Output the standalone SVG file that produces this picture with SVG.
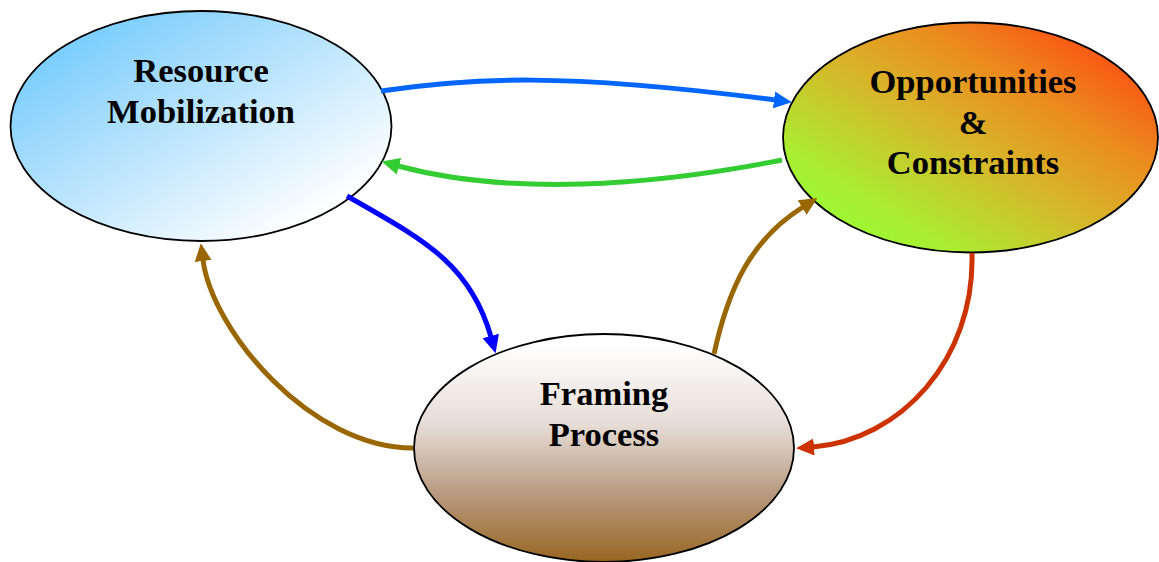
<svg xmlns="http://www.w3.org/2000/svg" width="1159" height="562" viewBox="0 0 1159 562">
  <style>
    .node { stroke: #000; stroke-width: 1.8; }
    .label { font-family: "Liberation Serif", "Times New Roman", serif; font-weight: bold; font-size: 34.5px; fill: #000; text-anchor: middle; }
    .conn { fill: none; stroke-width: 5; stroke-linecap: butt; }
  </style>
  <defs>
    <linearGradient id="gRes" x1="0" y1="0" x2="1" y2="1">
      <stop offset="0" stop-color="#5cc4ff"/>
      <stop offset="0.3" stop-color="#9ad8fc"/>
      <stop offset="0.85" stop-color="#ffffff"/>
    </linearGradient>
    <linearGradient id="gOpp" x1="0" y1="1" x2="1" y2="0">
      <stop offset="0.12" stop-color="#9cfa33"/>
      <stop offset="0.22" stop-color="#a8ef31"/>
      <stop offset="0.47" stop-color="#d6b82a"/>
      <stop offset="0.68" stop-color="#eb8c1e"/>
      <stop offset="0.85" stop-color="#f85a14"/>
      <stop offset="1" stop-color="#ff4a0c"/>
    </linearGradient>
    <linearGradient id="gFra" x1="0" y1="0" x2="0" y2="1">
      <stop offset="0.05" stop-color="#ffffff"/>
      <stop offset="0.4" stop-color="#e6dcd6"/>
      <stop offset="0.7" stop-color="#b89a80"/>
      <stop offset="1" stop-color="#996622"/>
    </linearGradient>
    <marker id="aBlue" markerUnits="userSpaceOnUse" markerWidth="20" markerHeight="18" refX="1" refY="8.5" orient="auto">
      <path d="M0,0 L18,8.5 L0,17 z" fill="#0066ff"/>
    </marker>
    <marker id="aGreen" markerUnits="userSpaceOnUse" markerWidth="20" markerHeight="18" refX="1" refY="8.5" orient="auto">
      <path d="M0,0 L18,8.5 L0,17 z" fill="#33cc33"/>
    </marker>
    <marker id="aDBlue" markerUnits="userSpaceOnUse" markerWidth="20" markerHeight="18" refX="1" refY="8.5" orient="auto">
      <path d="M0,0 L18,8.5 L0,17 z" fill="#0000ff"/>
    </marker>
    <marker id="aBrown" markerUnits="userSpaceOnUse" markerWidth="20" markerHeight="18" refX="1" refY="8.5" orient="auto">
      <path d="M0,0 L18,8.5 L0,17 z" fill="#996600"/>
    </marker>
    <marker id="aRed" markerUnits="userSpaceOnUse" markerWidth="20" markerHeight="18" refX="1" refY="8.5" orient="auto">
      <path d="M0,0 L18,8.5 L0,17 z" fill="#cc3300"/>
    </marker>
  </defs>

  <rect width="1159" height="562" fill="#ffffff"/>

  <g id="resource-mobilization">
    <ellipse class="node" cx="201" cy="126" rx="190.5" ry="115" fill="url(#gRes)"/>
    <text class="label" x="201" y="82">Resource</text>
    <text class="label" x="201" y="123">Mobilization</text>
  </g>

  <g id="opportunities-constraints">
    <ellipse class="node" cx="970.5" cy="137.5" rx="187.5" ry="115" fill="url(#gOpp)"/>
    <text class="label" x="973" y="93">Opportunities</text>
    <text class="label" x="973" y="134">&amp;</text>
    <text class="label" x="973" y="174">Constraints</text>
  </g>

  <g id="framing-process">
    <ellipse class="node" cx="604" cy="448" rx="190" ry="114" fill="url(#gFra)"/>
    <text class="label" x="604" y="405">Framing</text>
    <text class="label" x="604" y="446">Process</text>
  </g>

  <g id="connectors">
    <path class="conn" stroke="#0066ff" d="M381,91 C470,78 560,72 775,100" marker-end="url(#aBlue)"/>
    <path class="conn" stroke="#33cc33" d="M782,160 C650,186 510,196 398,166" marker-end="url(#aGreen)"/>
    <path class="conn" stroke="#0000ff" d="M347,196 C420,238 470,262 491,337" marker-end="url(#aDBlue)"/>
    <path class="conn" stroke="#996600" d="M413,448 C310,448 212,330 203,260" marker-end="url(#aBrown)"/>
    <path class="conn" stroke="#996600" d="M714,354 C728,290 750,240 803,207" marker-end="url(#aBrown)"/>
    <path class="conn" stroke="#cc3300" d="M972,253 C975,360 900,440 813,447" marker-end="url(#aRed)"/>
  </g>
</svg>
